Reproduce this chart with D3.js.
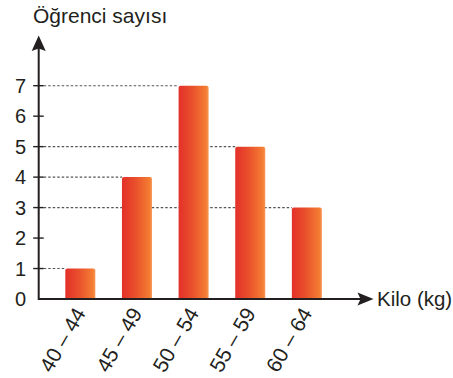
<!DOCTYPE html>
<html><head><meta charset="utf-8">
<script src="https://cdn.jsdelivr.net/npm/d3@7"></script>
<style>body{margin:0;background:#fff}svg{display:block}text{font-family:"Liberation Sans",Arial,Helvetica,sans-serif;fill:#231f20}</style>
</head><body>
<svg id="c" width="453" height="378"></svg>
<script>
const categories = ["40 – 44","45 – 49","50 – 54","55 – 59","60 – 64"];
const values = [1,4,7,5,3];
const yTicks = [0,1,2,3,4,5,6,7];
const yTitle = "Öğrenci sayısı";
const xTitle = "Kilo (kg)";

const svg = d3.select("#c");
const ink = "#231f20";
const x0 = 38.7, yBase = 299;
const x = d3.scaleBand().domain(categories).range([x0, 348.5]).padding(0.47);
const y = d3.scaleLinear().domain([0,7]).range([yBase, 85.7]);

const defs = svg.append("defs");
const g = defs.append("linearGradient").attr("id","bg").attr("x1","0").attr("x2","1").attr("y1","0").attr("y2","0");
g.append("stop").attr("offset","0%").attr("stop-color","#e3302a");
g.append("stop").attr("offset","45%").attr("stop-color","#e9502c");
g.append("stop").attr("offset","92%").attr("stop-color","#f47d32");
g.append("stop").attr("offset","100%").attr("stop-color","#f7995c");

// dotted guide lines
svg.append("g").selectAll("line").data(categories).join("line")
  .attr("x1", x0+5).attr("x2", d => x(d))
  .attr("y1", (d,i) => y(values[i])).attr("y2", (d,i) => y(values[i]))
  .attr("stroke", "#555").attr("stroke-width", 1.1).attr("stroke-dasharray","2.5,2");

// bars
const r = 2;
svg.append("g").selectAll("path").data(categories).join("path")
  .attr("fill","url(#bg)")
  .attr("d", (d,i) => {
    const xl = x(d), w = x.bandwidth(), yt = y(values[i]);
    return `M${xl},${yBase}V${yt+r}Q${xl},${yt} ${xl+r},${yt}H${xl+w-r}Q${xl+w},${yt} ${xl+w},${yt+r}V${yBase}Z`;
  });

// y ticks
svg.append("g").selectAll("line").data(yTicks.filter(t => t>0)).join("line")
  .attr("x1", x0-5.5).attr("x2", x0+5).attr("y1", d => y(d)).attr("y2", d => y(d))
  .attr("stroke", ink).attr("stroke-width", 1.4);
svg.append("g").selectAll("text").data(yTicks).join("text")
  .attr("x", 26).attr("y", d => y(d)).attr("dy","0.36em").attr("text-anchor","end")
  .attr("font-size", 20).text(d => d);

// axes
svg.append("path").attr("d", `M${x0},42V${yBase}H362`).attr("fill","none").attr("stroke",ink).attr("stroke-width",2);
svg.append("path").attr("d", `M${x0},35.5L${x0+7},51L${x0},48.5L${x0-7},51Z`).attr("fill",ink);
svg.append("path").attr("d", `M373.5,${yBase}L357.5,${yBase-6.5}L360.5,${yBase}L357.5,${yBase+6.5}Z`).attr("fill",ink);

// titles
svg.append("text").attr("x",33).attr("y",23).attr("font-size",21).text(yTitle);
svg.append("text").attr("x",377).attr("y",yBase).attr("dy","0.36em").attr("font-size",20.5).text(xTitle);

// x labels
svg.append("g").selectAll("text").data(categories).join("text")
  .attr("transform", d => `translate(${x(d)+x.bandwidth()/2+6},${313}) rotate(-60)`)
  .attr("text-anchor","end").attr("font-size",21).text(d => d);
</script>
</body></html>
